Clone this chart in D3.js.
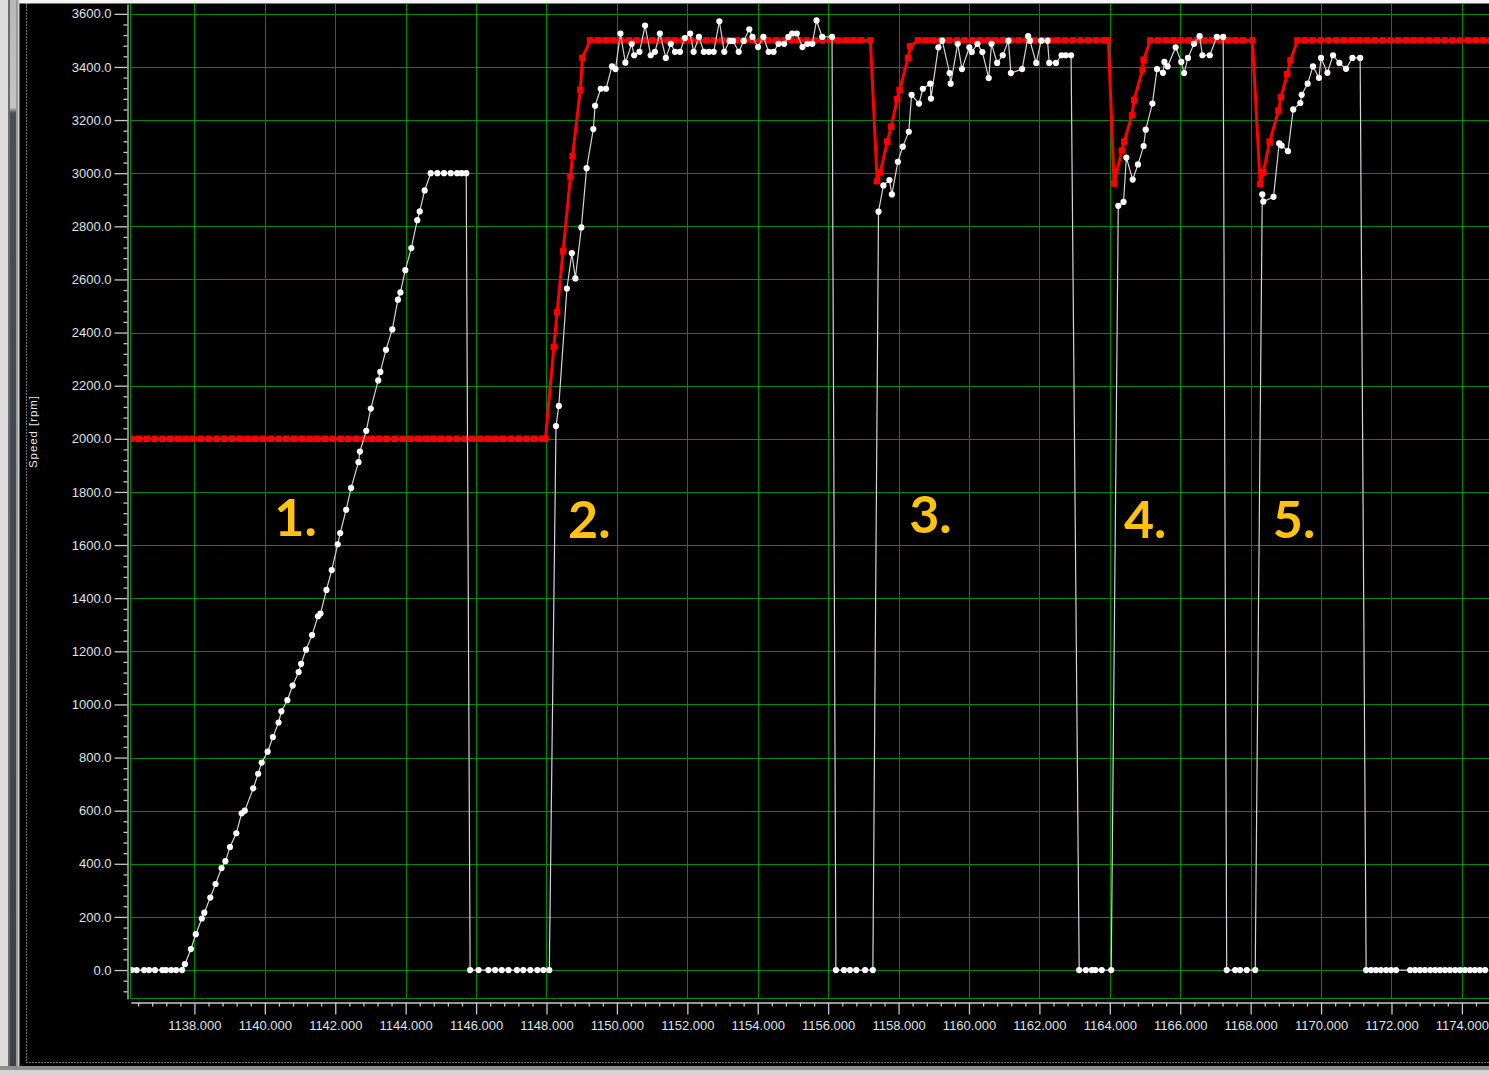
<!DOCTYPE html>
<html>
<head>
<meta charset="utf-8">
<script src="https://cdn.jsdelivr.net/npm/d3@7"></script>
<style>
  html, body { margin: 0; padding: 0; background: #000; overflow: hidden; }
  svg { display: block; }
</style>
</head>
<body>
<svg id="chart" width="1489" height="1075"></svg>
<script>
// ---- Data: time [s] vs. speed [rpm] ----

// Speed setpoint (red, square markers)
const setpointHold2000 = [1136.21, 1136.43, 1136.65, 1136.87, 1137.09, 1137.31, 1137.53, 1137.75, 1137.97,
  1138.19, 1138.41, 1138.63, 1138.85, 1139.07, 1139.29, 1139.51, 1139.73, 1139.95, 1140.17, 1140.39,
  1140.61, 1140.83, 1141.05, 1141.27, 1141.49, 1141.71, 1141.93, 1142.15, 1142.37, 1142.59, 1142.81,
  1143.03, 1143.25, 1143.47, 1143.69, 1143.91, 1144.13, 1144.35, 1144.57, 1144.79, 1145.01, 1145.23,
  1145.45, 1145.67, 1145.89, 1146.11, 1146.33, 1146.55, 1146.77, 1146.99, 1147.21, 1147.43, 1147.65,
  1147.87, 1147.97];
const setpointStep2 = [[1148.21, 2346], [1148.30, 2476], [1148.47, 2706], [1148.68, 2987], [1148.74, 3065],
  [1148.96, 3314], [1149.02, 3434]];
const setpointHold3500a = [1149.24, 1149.46, 1149.68, 1149.90, 1150.12, 1150.34, 1150.56, 1150.78, 1151.00,
  1151.22, 1151.44, 1151.66, 1151.88, 1152.10, 1152.32, 1152.54, 1152.76, 1152.98, 1153.20, 1153.42,
  1153.64, 1153.86, 1154.08, 1154.30, 1154.52, 1154.74, 1154.96, 1155.18, 1155.40, 1155.62, 1155.84,
  1156.06, 1156.28, 1156.50, 1156.72, 1156.94, 1157.20];
const setpointStep3 = [[1157.39, 2970], [1157.48, 3003], [1157.68, 3119], [1157.79, 3175], [1157.96, 3279],
  [1158.03, 3314], [1158.27, 3434], [1158.33, 3478]];
const setpointHold3500b = [1158.55, 1158.77, 1158.99, 1159.21, 1159.43, 1159.65, 1159.87, 1160.09, 1160.31,
  1160.53, 1160.75, 1160.97, 1161.19, 1161.41, 1161.63, 1161.85, 1162.07, 1162.29, 1162.51, 1162.73,
  1162.95, 1163.17, 1163.39, 1163.61, 1163.83, 1163.96];
const setpointStep4 = [[1164.12, 2961], [1164.34, 3085], [1164.41, 3119], [1164.63, 3219], [1164.69, 3276],
  [1164.93, 3390], [1164.96, 3427]];
const setpointHold3500c = [1165.15, 1165.37, 1165.59, 1165.81, 1166.03, 1166.25, 1166.47, 1166.69, 1166.91,
  1167.13, 1167.35, 1167.57, 1167.79, 1168.05];
const setpointStep5 = [[1168.27, 2959], [1168.36, 3003], [1168.54, 3119], [1168.79, 3236], [1168.86, 3286],
  [1169.04, 3373], [1169.13, 3425]];
const setpointHold3500d = [1169.33, 1169.55, 1169.77, 1169.99, 1170.21, 1170.43, 1170.65, 1170.87, 1171.09,
  1171.31, 1171.53, 1171.75, 1171.97, 1172.19, 1172.41, 1172.63, 1172.85, 1173.07, 1173.29, 1173.51,
  1173.73, 1173.95, 1174.17, 1174.39, 1174.61, 1174.83];

// Measured speed (white, round markers)
const speedRun1 = [[1136.22, 0], [1136.36, 0], [1136.57, 0], [1136.71, 0], [1136.88, 0], [1137.09, 0],
  [1137.19, 0], [1137.34, 0], [1137.48, 0], [1137.65, 0],
  [1137.73, 22], [1137.90, 79], [1138.04, 135], [1138.21, 194], [1138.28, 216], [1138.45, 273],
  [1138.60, 324], [1138.77, 384], [1138.88, 410], [1139.01, 463], [1139.19, 515], [1139.34, 590],
  [1139.43, 600], [1139.67, 684], [1139.81, 739], [1139.91, 781], [1140.08, 822], [1140.23, 877],
  [1140.39, 932], [1140.47, 974], [1140.64, 1016], [1140.79, 1071], [1140.96, 1122], [1141.03, 1153],
  [1141.17, 1206], [1141.34, 1261], [1141.51, 1332], [1141.58, 1342], [1141.75, 1431], [1141.90, 1506],
  [1142.07, 1603], [1142.14, 1645], [1142.31, 1733], [1142.45, 1815], [1142.66, 1912], [1142.70, 1952],
  [1142.88, 2030], [1143.01, 2114], [1143.22, 2220], [1143.28, 2252], [1143.44, 2335], [1143.62, 2412],
  [1143.78, 2524], [1143.85, 2551], [1143.99, 2635], [1144.16, 2718], [1144.33, 2823], [1144.40, 2856],
  [1144.54, 2935], [1144.71, 3000], [1144.90, 3000], [1145.09, 3000], [1145.28, 3000], [1145.46, 3000],
  [1145.59, 3000], [1145.72, 3000],
  [1145.83, 0], [1146.07, 0], [1146.35, 0], [1146.54, 0], [1146.73, 0], [1146.92, 0], [1147.16, 0],
  [1147.34, 0], [1147.54, 0], [1147.74, 0], [1147.91, 0], [1148.08, 0]];
const speedRun2 = [[1148.27, 2048], [1148.35, 2124], [1148.58, 2566], [1148.72, 2699], [1148.82, 2604],
  [1148.99, 2796], [1149.14, 3019], [1149.33, 3166], [1149.38, 3254], [1149.54, 3318], [1149.69, 3318],
  [1149.86, 3402], [1149.96, 3392], [1150.10, 3526], [1150.24, 3416], [1150.42, 3487], [1150.49, 3444],
  [1150.64, 3457], [1150.80, 3556], [1150.96, 3444], [1151.08, 3457], [1151.22, 3526], [1151.39, 3434],
  [1151.53, 3487], [1151.65, 3457], [1151.79, 3457], [1151.93, 3509], [1152.08, 3526], [1152.18, 3457],
  [1152.33, 3513], [1152.47, 3457], [1152.61, 3457], [1152.75, 3457], [1152.91, 3572], [1153.05, 3457],
  [1153.20, 3498], [1153.30, 3498], [1153.46, 3457], [1153.60, 3498], [1153.76, 3542], [1153.85, 3513],
  [1154.01, 3475], [1154.16, 3513], [1154.31, 3457], [1154.45, 3457], [1154.59, 3487], [1154.75, 3487],
  [1154.87, 3513], [1154.98, 3526], [1155.11, 3526], [1155.27, 3475], [1155.41, 3487], [1155.55, 3487],
  [1155.67, 3575], [1155.83, 3513], [1156.11, 3513],
  [1156.22, 0], [1156.45, 0], [1156.62, 0], [1156.80, 0], [1157.05, 0], [1157.27, 0]];
const speedRun3 = [[1157.43, 2855], [1157.57, 2954], [1157.74, 2974], [1157.81, 2920], [1157.98, 3043],
  [1158.12, 3100], [1158.29, 3156], [1158.37, 3295], [1158.58, 3262], [1158.69, 3318], [1158.90, 3337],
  [1158.92, 3281], [1159.13, 3474], [1159.24, 3499], [1159.45, 3377], [1159.48, 3337], [1159.68, 3487],
  [1159.80, 3392], [1160.01, 3474], [1160.08, 3456], [1160.24, 3487], [1160.38, 3456], [1160.56, 3358],
  [1160.64, 3487], [1160.80, 3415], [1160.96, 3444], [1161.12, 3499], [1161.19, 3377], [1161.51, 3392],
  [1161.68, 3516], [1161.73, 3499], [1161.91, 3415], [1162.05, 3499], [1162.23, 3499], [1162.28, 3415],
  [1162.47, 3415], [1162.63, 3444], [1162.75, 3444], [1162.90, 3444],
  [1163.13, 0], [1163.32, 0], [1163.49, 0], [1163.59, 0], [1163.77, 0], [1164.04, 0]];
const speedRun4 = [[1164.24, 2877], [1164.39, 2892], [1164.47, 3059], [1164.65, 2976], [1164.80, 3033],
  [1164.96, 3102], [1165.02, 3164], [1165.21, 3262], [1165.34, 3392], [1165.51, 3378], [1165.55, 3419],
  [1165.64, 3402], [1165.87, 3474], [1166.03, 3419], [1166.11, 3377], [1166.22, 3434], [1166.39, 3487],
  [1166.55, 3516], [1166.63, 3444], [1166.84, 3444], [1167.04, 3513], [1167.22, 3513],
  [1167.32, 0], [1167.56, 0], [1167.70, 0], [1167.89, 0], [1168.13, 0]];
const speedRun5 = [[1168.33, 2920], [1168.36, 2893], [1168.65, 2911], [1168.81, 3112], [1168.88, 3104],
  [1169.06, 3083], [1169.21, 3240], [1169.41, 3264], [1169.45, 3295], [1169.62, 3337], [1169.77, 3402],
  [1169.94, 3359], [1170.00, 3434], [1170.18, 3378], [1170.34, 3444], [1170.52, 3415], [1170.71, 3393],
  [1170.89, 3434], [1171.11, 3434],
  [1171.28, 0], [1171.42, 0], [1171.56, 0], [1171.70, 0], [1171.85, 0], [1171.99, 0], [1172.13, 0],
  [1172.53, 0], [1172.67, 0], [1172.81, 0], [1172.95, 0], [1173.10, 0], [1173.24, 0], [1173.38, 0],
  [1173.52, 0], [1173.66, 0], [1173.81, 0], [1173.95, 0], [1174.09, 0], [1174.23, 0], [1174.37, 0],
  [1174.51, 0], [1174.66, 0]];

// Axis ticks
const timeTicks = [1138, 1140, 1142, 1144, 1146, 1148, 1150, 1152, 1154, 1156, 1158,
  1160, 1162, 1164, 1166, 1168, 1170, 1172, 1174];
const speedTicks = [0, 200, 400, 600, 800, 1000, 1200, 1400, 1600, 1800, 2000,
  2200, 2400, 2600, 2800, 3000, 3200, 3400, 3600];

// Test phase annotations
const phaseLabels = ["1.", "2.", "3.", "4.", "5."];
const phaseTimes = [1140.27, 1148.61, 1158.30, 1164.40, 1168.63];
const phaseRpm = [1634, 1627, 1645, 1627, 1627];

// ---- Assemble series ----
const hold = (times, v) => times.map(t => [t, v]);
const setpoint = [].concat(
  hold(setpointHold2000, 2000), setpointStep2,
  hold(setpointHold3500a, 3500), setpointStep3,
  hold(setpointHold3500b, 3500), setpointStep4,
  hold(setpointHold3500c, 3500), setpointStep5,
  hold(setpointHold3500d, 3500));
const speed = [].concat(speedRun1, speedRun2, speedRun3, speedRun4, speedRun5);

// ---- Layout ----
const W = 1489, H = 1075;
const plot = { left: 130.7, right: 1489, top: 4, bottom: 999 };

const x = d3.scaleLinear().domain([1136.19, 1174.77]).range([plot.left, plot.right]);
const y = d3.scaleLinear().domain([-109, 3637]).range([plot.bottom, plot.top]);

const svg = d3.select("#chart");
const defs = svg.append("defs");

// window chrome
svg.append("rect").attr("width", W).attr("height", H).attr("fill", "#000");
svg.append("rect").attr("x", 0).attr("y", 0).attr("width", W).attr("height", 3.5).attr("fill", "#f4f4f4");
const sideGrad = defs.append("linearGradient").attr("id", "sideBar").attr("x1", 0).attr("x2", 0).attr("y1", 0).attr("y2", 1);
sideGrad.append("stop").attr("offset", "0").attr("stop-color", "#b8b8b8");
sideGrad.append("stop").attr("offset", "0.1").attr("stop-color", "#c4c4c4");
sideGrad.append("stop").attr("offset", "0.105").attr("stop-color", "#4a4e56");
sideGrad.append("stop").attr("offset", "1").attr("stop-color", "#3c4048");
svg.append("rect").attr("x", 0).attr("y", 0).attr("width", 8).attr("height", H).attr("fill", "#dcdcdc");
svg.append("rect").attr("x", 8).attr("y", 0).attr("width", 2).attr("height", H).attr("fill", "#6c6c6c");
svg.append("rect").attr("x", 10).attr("y", 0).attr("width", 6).attr("height", H).attr("fill", "url(#sideBar)");
svg.append("rect").attr("x", 16).attr("y", 0).attr("width", 2).attr("height", H).attr("fill", "#9a9a9a");
svg.append("rect").attr("x", 18).attr("y", 0).attr("width", 1.5).attr("height", H).attr("fill", "#cfcfcf");
svg.append("rect").attr("x", 0).attr("y", 1066).attr("width", W).attr("height", 4).attr("fill", "#8e8e8e");
svg.append("rect").attr("x", 0).attr("y", 1070).attr("width", W).attr("height", 5).attr("fill", "#d4d4d4");
svg.append("path")
  .attr("d", `M26.5,3.5 V1062.5 H${W}`)
  .attr("fill", "none").attr("stroke", "#e8e8e8").attr("stroke-width", 1)
  .attr("stroke-dasharray", "1,2");

// plot clip
defs.append("clipPath").attr("id", "plotClip").append("rect")
  .attr("x", plot.left).attr("y", plot.top)
  .attr("width", plot.right - plot.left).attr("height", plot.bottom - plot.top);

// grid
const gridColor = "#008a00";
const grid = svg.append("g").attr("shape-rendering", "crispEdges");
grid.selectAll(".vgrid").data(timeTicks).join("line")
  .attr("x1", d => Math.round(x(d)) + 0.5).attr("x2", d => Math.round(x(d)) + 0.5)
  .attr("y1", plot.top).attr("y2", plot.bottom)
  .attr("stroke", gridColor).attr("stroke-width", 1);
grid.selectAll(".hgrid").data(speedTicks).join("line")
  .attr("x1", plot.left).attr("x2", plot.right)
  .attr("y1", d => Math.round(y(d)) + 0.5).attr("y2", d => Math.round(y(d)) + 0.5)
  .attr("stroke", gridColor).attr("stroke-width", 1);
grid.append("path")
  .attr("d", `M${plot.left},${plot.top} V${plot.bottom - 0.5} H${plot.right}`)
  .attr("fill", "none").attr("stroke", gridColor).attr("stroke-width", 1);

// axes
const axisColor = "#c8c8c8";
const labelColor = "#dfe3ea";
const font = "'Liberation Sans', Arial, sans-serif";

const minorSpeed = d3.range(-80, 3640, 40).filter(v => v % 200 !== 0);
const minorTime = d3.range(1136.4, 1174.8, 0.4).filter(t => Math.abs(t / 2 - Math.round(t / 2)) > 0.01);

function styleAxis(g) {
  g.selectAll("path.domain").attr("stroke", axisColor).attr("stroke-width", 1.3);
  g.selectAll(".tick line").attr("stroke", axisColor).attr("stroke-width", 1.3);
  g.selectAll(".tick text").attr("fill", labelColor).style("font-family", font).style("font-size", "13px");
}

const yAxisG = svg.append("g").attr("transform", "translate(127.5,0)")
  .call(d3.axisLeft(y).tickValues(speedTicks).tickSize(13).tickSizeOuter(0).tickPadding(3)
    .tickFormat(d3.format(".1f")));
styleAxis(yAxisG);
const yMinorG = svg.append("g").attr("transform", "translate(127.5,0)")
  .call(d3.axisLeft(y).tickValues(minorSpeed).tickSize(4).tickSizeOuter(0).tickFormat(""));
yMinorG.select("path.domain").remove();
styleAxis(yMinorG);

const xAxisG = svg.append("g").attr("transform", "translate(0,1002.5)")
  .call(d3.axisBottom(x).tickValues(timeTicks).tickSize(12).tickSizeOuter(0).tickPadding(6)
    .tickFormat(d3.format(".3f")));
styleAxis(xAxisG);
const xMinorG = svg.append("g").attr("transform", "translate(0,1002.5)")
  .call(d3.axisBottom(x).tickValues(minorTime).tickSize(4).tickSizeOuter(0).tickFormat(""));
xMinorG.select("path.domain").remove();
styleAxis(xMinorG);

// axis title
svg.append("text")
  .attr("transform", "translate(36.5,432) rotate(-90)")
  .attr("text-anchor", "middle")
  .attr("fill", "#e8e8e8")
  .attr("textLength", 72)
  .style("font-family", font).style("font-size", "11.5px")
  .text("Speed [rpm]");

// series
const plotG = svg.append("g").attr("clip-path", "url(#plotClip)");
const line = d3.line().x(d => x(d[0])).y(d => y(d[1]));

plotG.append("path").datum(setpoint)
  .attr("d", line).attr("fill", "none")
  .attr("stroke", "#ff0000").attr("stroke-width", 3).attr("stroke-linejoin", "round");
const sq = 6.5;
plotG.append("g").selectAll("rect").data(setpoint).join("rect")
  .attr("x", d => x(d[0]) - sq / 2).attr("y", d => y(d[1]) - sq / 2)
  .attr("width", sq).attr("height", sq).attr("fill", "#ff0000");

plotG.append("path").datum(speed)
  .attr("d", line).attr("fill", "none")
  .attr("stroke", "#d4d4d4").attr("stroke-width", 1.2).attr("stroke-linejoin", "round");
plotG.append("g").selectAll("circle").data(speed).join("circle")
  .attr("cx", d => x(d[0])).attr("cy", d => y(d[1])).attr("r", 3.1)
  .attr("fill", "#ffffff");

// phase annotations
svg.append("g").selectAll("text").data(phaseLabels).join("text")
  .attr("x", (d, i) => x(phaseTimes[i]))
  .attr("y", (d, i) => y(phaseRpm[i]))
  .attr("fill", "#ffc20e")
  .style("font-family", "Lato, 'Open Sans', sans-serif")
  .style("font-weight", "700")
  .style("font-size", "52px")
  .text(d => d);
</script>
</body>
</html>
